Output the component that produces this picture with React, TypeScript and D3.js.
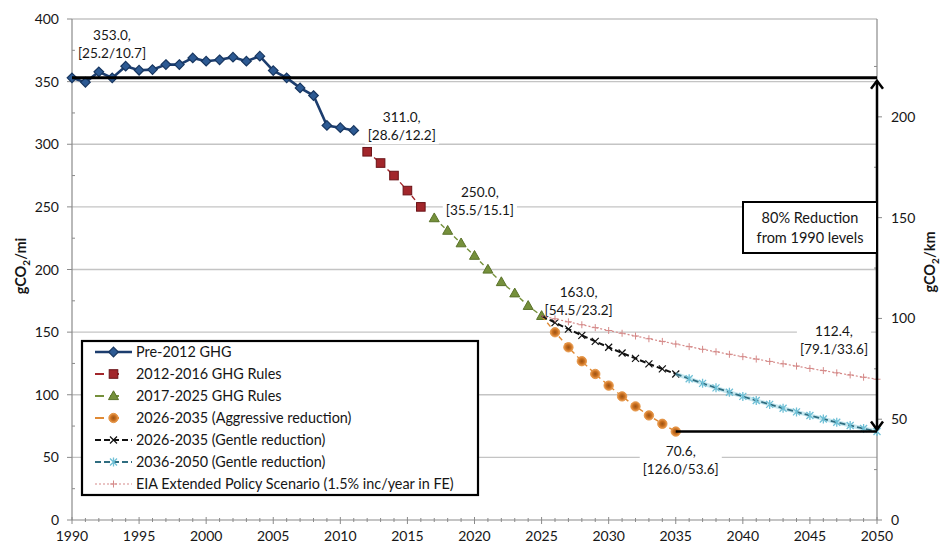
import React, { useEffect, useRef } from 'react';
import * as d3 from 'd3';

// ---------- data ----------
const preStartYear = 1990;
const preValues = [353, 349.5, 357.8, 353, 362.3, 359.1, 359.6, 363.6, 363.6, 368.9, 366.3, 367.4, 369.5, 366.3, 370.3, 358.8, 353, 345, 338.9, 315, 313.2, 311];
const rules1StartYear = 2012;
const rules1Values = [294, 285, 275, 263, 250];
const rules2StartYear = 2017;
const rules2Values = [241, 231, 221, 211, 200, 190, 181, 171, 163];
const aggrStartYear = 2026;
const aggrValues = [149.9, 137.9, 126.8, 116.6, 107.3, 98.7, 90.7, 83.5, 76.8, 70.6];
const gentle1StartYear = 2026;
const gentle1Values = [157.6, 152.4, 147.4, 142.6, 137.9, 133.3, 129.0, 124.7, 120.6, 116.6];
const gentle2StartYear = 2036;
const gentle2Values = [112.8, 109.1, 105.5, 102.0, 98.7, 95.4, 92.3, 89.2, 86.3, 83.5, 80.7, 78.0, 75.5, 73.0, 70.6];
const eiaStartYear = 2026;
const eiaValues = [160.6, 158.2, 155.9, 153.6, 151.3, 149.1, 146.9, 144.7, 142.6, 140.5, 138.4, 136.3, 134.3, 132.3, 130.4, 128.5, 126.6, 124.7, 122.9, 121.0, 119.3, 117.5, 115.8, 114.0, 112.4];

const seriesNames = [
  'Pre-2012 GHG',
  '2012-2016 GHG Rules',
  '2017-2025 GHG Rules',
  '2026-2035 (Aggressive reduction)',
  '2026-2035 (Gentle reduction)',
  '2036-2050 (Gentle reduction)',
  'EIA Extended Policy Scenario (1.5% inc/year in FE)',
];

const xTickYears = [1990, 1995, 2000, 2005, 2010, 2015, 2020, 2025, 2030, 2035, 2040, 2045, 2050];
const yTickValues = [0, 50, 100, 150, 200, 250, 300, 350, 400];
const yRightTickValues = [0, 50, 100, 150, 200];
const kmPerMile = 1.609344;

const annotations = [
  { year: 1990, value: 353.0, text: ['353.0,', '[25.2/10.7]'] },
  { year: 2011, value: 311.0, text: ['311.0,', '[28.6/12.2]'] },
  { year: 2016, value: 250.0, text: ['250.0,', '[35.5/15.1]'] },
  { year: 2025, value: 163.0, text: ['163.0,', '[54.5/23.2]'] },
  { year: 2035, value: 70.6, text: ['70.6,', '[126.0/53.6]'] },
  { year: 2050, value: 112.4, text: ['112.4,', '[79.1/33.6]'] },
];
const baselineValue = 353.0;
const targetValue = 70.6;
const targetYear = 2035;
const boxText = ['80% Reduction', 'from 1990 levels'];

const FONT = 'Lato, "Open Sans", sans-serif';
const TXT = '#161616';

type Pt = { year: number; value: number };
const toPts = (start: number, vals: number[]): Pt[] => vals.map((v, i) => ({ year: start + i, value: v }));

export default function App() {
  const ref = useRef<SVGSVGElement>(null);

  useEffect(() => {
    const svg = d3.select(ref.current!);
    svg.selectAll('*').remove();

    const x = d3.scaleLinear().domain([1990, 2050]).range([72, 877]);
    const y = d3.scaleLinear().domain([0, 400]).range([520, 19]);
    const yR = d3.scaleLinear().domain([0, 400 / kmPerMile]).range([520, 19]);

    svg.append('rect').attr('width', 940).attr('height', 550).attr('fill', '#fff');

    const defs = svg.append('defs');
    const grad = defs.append('radialGradient').attr('id', 'orangeGrad');
    grad.append('stop').attr('offset', '0%').attr('stop-color', '#9a5216');
    grad.append('stop').attr('offset', '55%').attr('stop-color', '#c96f1e');
    grad.append('stop').attr('offset', '100%').attr('stop-color', '#eda058');

    // grid
    const grid = svg.append('g');
    yTickValues.filter((v) => v > 0).forEach((v) => {
      grid.append('line').attr('x1', x(1990)).attr('x2', x(2050)).attr('y1', y(v)).attr('y2', y(v))
        .attr('stroke', '#c4c4c4').attr('stroke-width', 1.4);
    });

    // axes
    const ax = svg.append('g');
    ax.append('line').attr('x1', x(1990)).attr('x2', x(1990)).attr('y1', y(400)).attr('y2', y(0)).attr('stroke', '#8a8a8a').attr('stroke-width', 1.2);
    ax.append('line').attr('x1', x(2050)).attr('x2', x(2050)).attr('y1', y(400)).attr('y2', y(0)).attr('stroke', '#8a8a8a').attr('stroke-width', 1.2);
    ax.append('line').attr('x1', x(1990)).attr('x2', x(2050)).attr('y1', y(0)).attr('y2', y(0)).attr('stroke', '#8a8a8a').attr('stroke-width', 1.2);

    // x ticks (each year minor, 5-yr major)
    d3.range(1990, 2051).forEach((yr) => {
      const major = (yr - 1990) % 5 === 0;
      ax.append('line').attr('x1', x(yr)).attr('x2', x(yr))
        .attr('y1', y(0) - (major ? 3 : 2)).attr('y2', y(0) + (major ? 4 : 2))
        .attr('stroke', '#8a8a8a').attr('stroke-width', 1);
    });
    xTickYears.forEach((yr) => {
      ax.append('text').attr('x', x(yr)).attr('y', 541).attr('text-anchor', 'middle')
        .attr('font-family', FONT).attr('font-size', 14).attr('fill', TXT).text(String(yr));
    });
    // left y ticks
    d3.range(0, 401, 25).forEach((v) => {
      const major = v % 50 === 0;
      ax.append('line').attr('x1', x(1990) - (major ? 5 : 0)).attr('x2', x(1990) + (major ? 0 : 3))
        .attr('y1', y(v)).attr('y2', y(v)).attr('stroke', '#8a8a8a').attr('stroke-width', 1);
    });
    yTickValues.forEach((v) => {
      ax.append('text').attr('x', 59).attr('y', y(v)).attr('dy', '0.36em').attr('text-anchor', 'end')
        .attr('font-family', FONT).attr('font-size', 14).attr('fill', TXT).text(String(v));
    });
    // right y ticks
    d3.range(0, 226, 25).forEach((v) => {
      const major = v % 50 === 0;
      ax.append('line').attr('x1', x(2050) - (major ? 0 : 3)).attr('x2', x(2050) + (major ? 5 : 0))
        .attr('y1', yR(v)).attr('y2', yR(v)).attr('stroke', '#8a8a8a').attr('stroke-width', 1);
    });
    yRightTickValues.forEach((v) => {
      ax.append('text').attr('x', 891).attr('y', yR(v)).attr('dy', '0.36em').attr('text-anchor', 'start')
        .attr('font-family', FONT).attr('font-size', 14).attr('fill', TXT).text(String(v));
    });

    // axis titles
    const title = (cx: number, cy: number, unit: string) => {
      const t = svg.append('text').attr('transform', `translate(${cx},${cy}) rotate(-90)`)
        .attr('text-anchor', 'middle').attr('dy', '0.35em')
        .attr('font-family', FONT).attr('font-size', 14.5).attr('font-weight', 700).attr('fill', TXT);
      t.append('tspan').text('gCO');
      t.append('tspan').attr('font-size', 10).attr('dy', 4).text('2');
      t.append('tspan').attr('dy', -4).text('/' + unit);
    };
    title(21, 266, 'mi');
    title(930, 262, 'km');

    // annotations (white label backgrounds hide gridlines, drawn beneath series marks)
    const annOffsets = [
      { dx: 40, dy: -43 },
      { dx: 48, dy: -13 },
      { dx: 59, dy: -15 },
      { dx: 37, dy: -24 },
      { dx: 5, dy: 20 },
      { dx: -43, dy: -48 },
    ];
    annotations.forEach((a, i) => {
      const g = svg.append('g');
      const cx = x(a.year) + annOffsets[i].dx;
      const cy = y(a.value) + annOffsets[i].dy;
      const bg = g.append('rect').attr('fill', '#fff');
      const texts = a.text.map((t, j) =>
        g.append('text').attr('x', cx).attr('y', cy + j * 18).attr('dy', '0.35em').attr('text-anchor', 'middle')
          .attr('font-family', FONT).attr('font-size', 13.6).attr('fill', TXT).text(t)
      );
      const boxes = texts.map((t) => (t.node() as SVGTextElement).getBBox());
      const x0 = Math.min(...boxes.map((b) => b.x)) - 3;
      const x1 = Math.max(...boxes.map((b) => b.x + b.width)) + 3;
      const y0 = Math.min(...boxes.map((b) => b.y)) - 1;
      const y1 = Math.max(...boxes.map((b) => b.y + b.height)) + 1;
      bg.attr('x', x0).attr('y', y0).attr('width', x1 - x0).attr('height', y1 - y0);
    });

    // series
    const lineGen = d3.line<Pt>().x((d) => x(d.year)).y((d) => y(d.value));
    const pre = toPts(preStartYear, preValues);
    const r1 = toPts(rules1StartYear, rules1Values);
    const r2 = toPts(rules2StartYear, rules2Values);
    const ag = toPts(aggrStartYear, aggrValues);
    const g1 = toPts(gentle1StartYear, gentle1Values);
    const g2 = toPts(gentle2StartYear, gentle2Values);
    const eia = toPts(eiaStartYear, eiaValues);
    const anchor2025 = r2[r2.length - 1];
    const anchor2035 = g1[g1.length - 1];

    const mk = {
      diamond: (g: any, cx: number, cy: number) =>
        g.append('path').attr('d', `M${cx},${cy - 4.8}L${cx + 4.8},${cy}L${cx},${cy + 4.8}L${cx - 4.8},${cy}Z`)
          .attr('fill', '#2d5a93').attr('stroke', '#173660').attr('stroke-width', 1.2),
      square: (g: any, cx: number, cy: number) =>
        g.append('rect').attr('x', cx - 4.3).attr('y', cy - 4.3).attr('width', 8.6).attr('height', 8.6)
          .attr('fill', '#a2262b').attr('stroke', '#6a1317').attr('stroke-width', 1),
      triangle: (g: any, cx: number, cy: number) =>
        g.append('path').attr('d', `M${cx},${cy - 5.2}L${cx + 5},${cy + 3.6}L${cx - 5},${cy + 3.6}Z`)
          .attr('fill', '#75903b').attr('stroke', '#5a7229').attr('stroke-width', 1),
      circle: (g: any, cx: number, cy: number) =>
        g.append('circle').attr('cx', cx).attr('cy', cy).attr('r', 4.7)
          .attr('fill', 'url(#orangeGrad)').attr('stroke', '#e08a35').attr('stroke-width', 0.8),
      cross: (g: any, cx: number, cy: number) =>
        g.append('path').attr('d', `M${cx - 3.5},${cy - 3.5}L${cx + 3.5},${cy + 3.5}M${cx - 3.5},${cy + 3.5}L${cx + 3.5},${cy - 3.5}`)
          .attr('stroke', '#111').attr('stroke-width', 1.2),
      star: (g: any, cx: number, cy: number) =>
        g.append('path').attr('d', `M${cx - 3.5},${cy - 3.5}L${cx + 3.5},${cy + 3.5}M${cx - 3.5},${cy + 3.5}L${cx + 3.5},${cy - 3.5}M${cx},${cy - 4.5}L${cx},${cy + 4.5}`)
          .attr('stroke', '#6fc0d6').attr('stroke-width', 1.3),
      plus: (g: any, cx: number, cy: number) =>
        g.append('path').attr('d', `M${cx - 3.5},${cy}L${cx + 3.5},${cy}M${cx},${cy - 3.5}L${cx},${cy + 3.5}`)
          .attr('stroke', '#d58a89').attr('stroke-width', 1),
    };

    const sg = svg.append('g');
    // pre-2012
    sg.append('path').attr('d', lineGen(pre)!).attr('fill', 'none').attr('stroke', '#1c3d6e').attr('stroke-width', 2.6);
    pre.forEach((p) => mk.diamond(sg, x(p.year), y(p.value)));
    // 2012-2016
    sg.append('path').attr('d', lineGen(r1)!).attr('fill', 'none').attr('stroke', '#a2262b').attr('stroke-width', 1.4).attr('stroke-dasharray', '5,4');
    r1.forEach((p) => mk.square(sg, x(p.year), y(p.value)));
    // 2017-2025
    sg.append('path').attr('d', lineGen(r2)!).attr('fill', 'none').attr('stroke', '#75903b').attr('stroke-width', 1.4).attr('stroke-dasharray', '5,4');
    r2.forEach((p) => mk.triangle(sg, x(p.year), y(p.value)));
    // aggressive
    sg.append('path').attr('d', lineGen([anchor2025, ...ag])!).attr('fill', 'none').attr('stroke', '#e08a35').attr('stroke-width', 1.4).attr('stroke-dasharray', '5,4');
    ag.forEach((p) => mk.circle(sg, x(p.year), y(p.value)));
    // gentle 2026-2035
    sg.append('path').attr('d', lineGen([anchor2025, ...g1])!).attr('fill', 'none').attr('stroke', '#111').attr('stroke-width', 2).attr('stroke-dasharray', '6,3');
    g1.forEach((p) => mk.cross(sg, x(p.year), y(p.value)));
    // gentle 2036-2050
    sg.append('path').attr('d', lineGen([anchor2035, ...g2])!).attr('fill', 'none').attr('stroke', '#9fd7e5').attr('stroke-width', 4).attr('opacity', 0.6);
    sg.append('path').attr('d', lineGen([anchor2035, ...g2])!).attr('fill', 'none').attr('stroke', '#2f6d80').attr('stroke-width', 1.8).attr('stroke-dasharray', '6,3');
    g2.forEach((p) => mk.star(sg, x(p.year), y(p.value)));
    // EIA
    sg.append('path').attr('d', lineGen([anchor2025, ...eia])!).attr('fill', 'none').attr('stroke', '#d58a89').attr('stroke-width', 1.2).attr('stroke-dasharray', '2,2');
    eia.forEach((p) => mk.plus(sg, x(p.year), y(p.value)));

    // reduction lines and arrow
    const ov = svg.append('g');
    ov.append('line').attr('x1', x(1990)).attr('x2', x(2050)).attr('y1', y(baselineValue)).attr('y2', y(baselineValue))
      .attr('stroke', '#000').attr('stroke-width', 3);
    ov.append('line').attr('x1', x(targetYear)).attr('x2', x(2050)).attr('y1', y(targetValue)).attr('y2', y(targetValue))
      .attr('stroke', '#000').attr('stroke-width', 2.5);
    const ax2050 = x(2050);
    const yTop = y(baselineValue) + 3;
    const yBot = y(targetValue) - 2;
    ov.append('line').attr('x1', ax2050).attr('x2', ax2050).attr('y1', yTop).attr('y2', yBot).attr('stroke', '#000').attr('stroke-width', 2.5);
    ov.append('path').attr('d', `M${ax2050 - 6},${yTop + 8}L${ax2050},${yTop}L${ax2050 + 6},${yTop + 8}`).attr('fill', 'none').attr('stroke', '#000').attr('stroke-width', 2.5);
    ov.append('path').attr('d', `M${ax2050 - 6},${yBot - 8}L${ax2050},${yBot}L${ax2050 + 6},${yBot - 8}`).attr('fill', 'none').attr('stroke', '#000').attr('stroke-width', 2.5);

    // 80% box
    const bx = 743, by = 202, bw = ax2050 - 743, bh = 51;
    ov.append('rect').attr('x', bx).attr('y', by).attr('width', bw).attr('height', bh).attr('fill', '#fff').attr('stroke', '#000').attr('stroke-width', 2);
    boxText.forEach((t, i) => {
      ov.append('text').attr('x', bx + bw / 2).attr('y', by + 16 + i * 20).attr('dy', '0.35em').attr('text-anchor', 'middle')
        .attr('font-family', FONT).attr('font-size', 14.5).attr('fill', TXT).text(t);
    });

    // legend
    const lg = svg.append('g');
    lg.append('rect').attr('x', 82).attr('y', 341).attr('width', 396).attr('height', 154)
      .attr('fill', '#fff').attr('stroke', '#000').attr('stroke-width', 2.2);
    const legendMarkers = [mk.diamond, mk.square, mk.triangle, mk.circle, mk.cross, mk.star, mk.plus];
    const legendLines = [
      { stroke: '#1c3d6e', w: 2.4, dash: null as string | null, x1: 95, x2: 132 },
      { stroke: '#a2262b', w: 2, dash: '9,6', x1: 95, x2: 120 },
      { stroke: '#75903b', w: 2, dash: '9,6', x1: 95, x2: 120 },
      { stroke: '#e08a35', w: 2, dash: '9,6', x1: 95, x2: 120 },
      { stroke: '#111', w: 2, dash: '6,3', x1: 95, x2: 132 },
      { stroke: '#2f6d80', w: 2, dash: '6,3', x1: 95, x2: 132 },
      { stroke: '#d58a89', w: 1.2, dash: '2,2', x1: 95, x2: 132 },
    ];
    seriesNames.forEach((name, i) => {
      const ly = 352 + i * 22;
      const l = legendLines[i];
      const ln = lg.append('line').attr('x1', l.x1).attr('x2', l.x2).attr('y1', ly).attr('y2', ly)
        .attr('stroke', l.stroke).attr('stroke-width', l.w);
      if (l.dash) ln.attr('stroke-dasharray', l.dash);
      legendMarkers[i](lg, 113.5, ly);
      lg.append('text').attr('x', 136).attr('y', ly).attr('dy', '0.36em')
        .attr('font-family', FONT).attr('font-size', 14.4).attr('fill', TXT).text(name);
    });
  }, []);

  return (
    <svg ref={ref} width={940} height={550} style={{ position: 'absolute', left: 0, top: 0, display: 'block' }} />
  );
}
